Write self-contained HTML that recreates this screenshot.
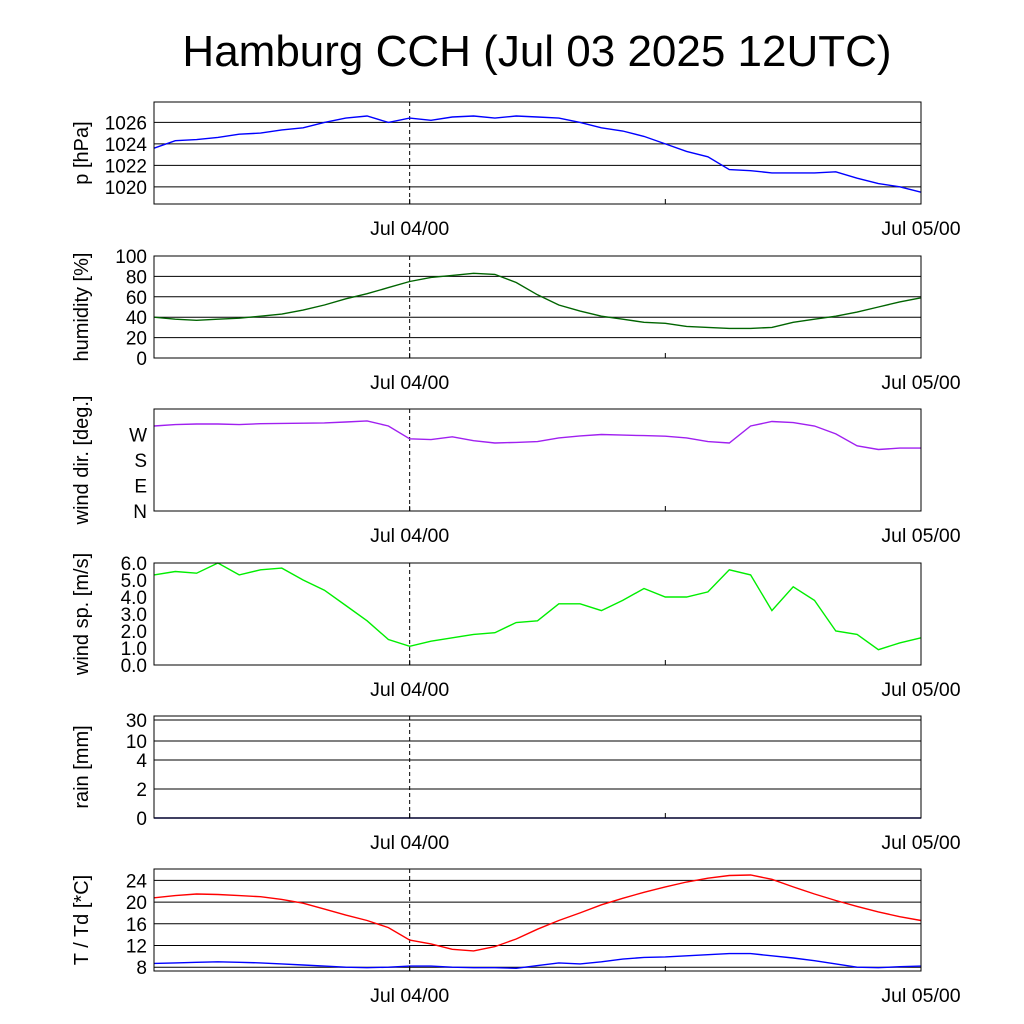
<!DOCTYPE html>
<html><head><meta charset="utf-8"><style>
body{margin:0;background:#fff;}
svg{display:block;font-family:"Liberation Sans",sans-serif;}
</style></head><body>
<svg id="c" width="1024" height="1024" viewBox="0 0 1024 1024">
<text x="537" y="66" font-size="44" text-anchor="middle">Hamburg CCH (Jul 03 2025 12UTC)</text>
</svg>
<script>
const hours = [0,1,2,3,4,5,6,7,8,9,10,11,12,13,14,15,16,17,18,19,20,21,22,23,24,25,26,27,28,29,30,31,32,33,34,35,36];
const pressure = [1023.6,1024.3,1024.4,1024.6,1024.9,1025.0,1025.3,1025.5,1026.0,1026.4,1026.6,1026.0,1026.4,1026.2,1026.5,1026.6,1026.4,1026.6,1026.5,1026.4,1026.0,1025.5,1025.2,1024.7,1024.0,1023.3,1022.8,1021.6,1021.5,1021.3,1021.3,1021.3,1021.4,1020.8,1020.3,1020.0,1019.5];
const humidity = [40,38,37,38,39,41,43,47,52,58,63,69,75,79,81,83,82,74,62,52,46,41,38,35,34,31,30,29,29,30,35,38,41,45,50,55,59];
const winddir = [300,305,307,307,305,308,309,310,311,314,318,300,255,252,262,248,240,242,245,258,265,270,268,266,264,258,245,240,300,316,312,300,272,230,217,222,222];
const windspd = [5.3,5.5,5.4,6.0,5.3,5.6,5.7,5.0,4.4,3.5,2.6,1.5,1.1,1.4,1.6,1.8,1.9,2.5,2.6,3.6,3.6,3.2,3.8,4.5,4.0,4.0,4.3,5.6,5.3,3.2,4.6,3.8,2.0,1.8,0.9,1.3,1.6];
const rain = [0,0,0,0,0,0,0,0,0,0,0,0,0,0,0,0,0,0,0,0,0,0,0,0,0,0,0,0,0,0,0,0,0,0,0,0,0];
const temp = [20.8,21.2,21.5,21.4,21.2,21.0,20.5,19.8,18.7,17.6,16.6,15.3,13.0,12.3,11.3,11.0,11.8,13.2,15.0,16.6,18.0,19.5,20.7,21.8,22.8,23.7,24.4,24.9,25.0,24.2,22.8,21.5,20.3,19.2,18.2,17.3,16.6];
const dewpt = [8.7,8.8,8.9,9.0,8.9,8.8,8.6,8.4,8.2,8.0,7.9,8.0,8.2,8.2,8.0,7.9,7.9,7.8,8.3,8.8,8.6,9.0,9.5,9.8,9.9,10.1,10.3,10.5,10.5,10.1,9.7,9.2,8.6,8.0,7.9,8.1,8.2];
const xLabels = ["Jul 04/00","Jul 05/00"];

const svg=document.getElementById('c');const NS="http://www.w3.org/2000/svg";
const X0=154,X1=921,H=36;
const xs=h=>X0+(X1-X0)*h/H;
function el(t,a,p){const e=document.createElementNS(NS,t);for(const k in a)e.setAttribute(k,a[k]);(p||svg).appendChild(e);return e;}
function panel(name,top,label,ymin,ymax,grid,ticks,series,map){
  const bot=top+102;
  const g=el('g',{});
  
  
  const ys=map||(v=>bot-(v-ymin)/(ymax-ymin)*102);
  grid.forEach(v=>{const l=el('line',{x1:X0,x2:X1,y1:ys(v),y2:ys(v),stroke:'#000','stroke-width':1},g);});
  ticks.forEach(t=>{const tx=el('text',{x:147,y:ys(t[0])+7,'font-size':19,'text-anchor':'end'},g);tx.textContent=t[1];});
  const dl=el('line',{x1:xs(12),x2:xs(12),y1:top,y2:bot,stroke:'#000','stroke-dasharray':'4,3'},g);
  
  series.forEach(s=>{const pts=hours.map((h,i)=>xs(h).toFixed(1)+','+ys(s.v[i]).toFixed(1)).join(' ');
    const pl=el('polyline',{points:pts,fill:'none',stroke:s.c,'stroke-width':1.4},g);});
  const fr=el('rect',{x:X0,y:top,width:X1-X0,height:102,fill:'none',stroke:'#000'},g);
  [xs(0),xs(12),xs(24),xs(36)].forEach(x=>{el('line',{x1:x,x2:x,y1:bot,y2:bot-5,stroke:'#000'},g);});
  const yl=el('text',{transform:`translate(88,${top+51}) rotate(-90)`,'font-size':20,'text-anchor':'middle'},g);yl.textContent=label;
  [[12,xLabels[0]],[36,xLabels[1]]].forEach(([h,t])=>{const tx=el('text',{x:xs(h),y:bot+31,'font-size':19.5,'text-anchor':'middle'},g);tx.textContent=t;});
}
panel('pressure',102,'p [hPa]',1018.4,1027.9,[1020,1022,1024,1026],[[1020,'1020'],[1022,'1022'],[1024,'1024'],[1026,'1026']],[{v:pressure,c:'#0000ff',n:'pressure-line'}]);
panel('humidity',256,'humidity [%]',0,100,[20,40,60,80],[[0,'0'],[20,'20'],[40,'40'],[60,'60'],[80,'80'],[100,'100']],[{v:humidity,c:'#006400',n:'humidity-line'}]);
panel('wind-dir',409,'wind dir. [deg.]',0,360,[],[[0,'N'],[90,'E'],[180,'S'],[270,'W']],[{v:winddir,c:'#a020f0',n:'wind-direction-line'}]);
panel('wind-speed',563,'wind sp. [m/s]',0,6,[],[[0,'0.0'],[1,'1.0'],[2,'2.0'],[3,'3.0'],[4,'4.0'],[5,'5.0'],[6,'6.0']],[{v:windspd,c:'#00ee00',n:'wind-speed-line'}]);
const rainMap=v=>{const k=[[0,818],[2,789],[4,760],[10,741],[30,720]];for(let i=1;i<k.length;i++){if(v<=k[i][0]){const a=k[i-1],b=k[i];return a[1]+(v-a[0])/(b[0]-a[0])*(b[1]-a[1]);}}return 716;};
panel('rain',716,'rain [mm]',0,30,[2,4,10,30],[[0,'0'],[2,'2'],[4,'4'],[10,'10'],[30,'30']],[{v:rain,c:'#00008b',n:'rain-line'}],rainMap);
panel('temperature',869,'T / Td [*C]',7.3,26.1,[8,12,16,20,24],[[8,'8'],[12,'12'],[16,'16'],[20,'20'],[24,'24']],[{v:temp,c:'#ff0000',n:'temperature-line'},{v:dewpt,c:'#0000ff',n:'dewpoint-line'}]);
</script>
</body></html>
